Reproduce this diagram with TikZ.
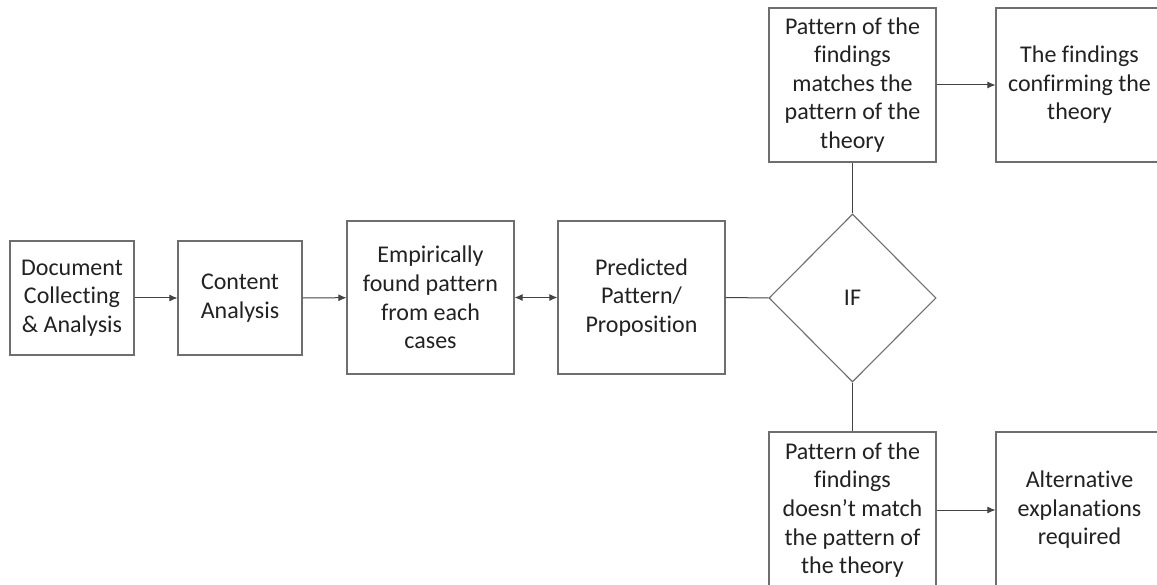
\documentclass[tikz,border=0pt]{standalone}
\usepackage{fontspec}
\setmainfont{Carlito}[RawFeature={-liga;-clig;-calt;-dlig}]
\usetikzlibrary{shapes.geometric,arrows.meta}
\definecolor{edge}{HTML}{6E6E6E}
\definecolor{ink}{HTML}{222222}
\begin{document}
\begin{tikzpicture}[x=1pt,y=-1pt,
  box/.style={draw=edge,line width=1.1pt,rectangle,inner sep=0pt,align=center,text=ink,
    font=\fontsize{24}{28.6}\selectfont},
  dec/.style={draw=edge,line width=1.1pt,diamond,inner sep=0pt,align=center,text=ink,
    font=\fontsize{24}{28.6}\selectfont,minimum width=167pt,minimum height=168pt},
  conn/.style={draw=ink!85,line width=1pt},
  arr/.style={conn,-{Latex[length=8pt,width=7pt]}},
  darr/.style={conn,{Latex[length=8pt,width=7pt]}-{Latex[length=8pt,width=7pt]}}]
\useasboundingbox (0,0) rectangle (1157,585);
\clip (0,0) rectangle (1157,585);
\fill[white] (0,0) rectangle (1157,585);
\node[box,minimum width=124pt,minimum height=114pt] (doc) at (72,298) {Document\\Collecting\\\& Analysis};
\node[box,minimum width=124pt,minimum height=114pt] (ca) at (240,298) {Content\\Analysis};
\node[box,minimum width=167pt,minimum height=153pt] (emp) at (430.5,297.5) {Empirically\\found pattern\\from each\\cases};
\node[box,minimum width=167pt,minimum height=153pt] (pred) at (641.5,297.5) {Predicted\\Pattern/\\Proposition};
\node[dec] (if) at (852.5,298) {IF};
\node[box,minimum width=167pt,minimum height=154pt] (match) at (852.5,85) {Pattern of the\\findings\\matches the\\pattern of the\\theory};
\node[box,minimum width=167pt,minimum height=154pt] (conf) at (1079.5,85) {The findings\\confirming the\\theory};
\node[box,minimum width=167pt,minimum height=156pt] (nomatch) at (852.5,510) {Pattern of the\\findings\\doesn’t match\\the pattern of\\the theory};
\node[box,minimum width=167pt,minimum height=156pt] (alt) at (1079.5,510) {Alternative\\explanations\\required};
\draw[arr] (doc) -- (ca);
\draw[arr] (ca) -- (emp);
\draw[darr] (emp) -- (pred);
\draw[conn] (pred) -- (if);
\draw[conn] (if.north) -- (match.south);
\draw[conn] (if.south) -- (nomatch.north);
\draw[arr] (match) -- (conf);
\draw[arr] (nomatch) -- (alt);
\end{tikzpicture}
\end{document}
